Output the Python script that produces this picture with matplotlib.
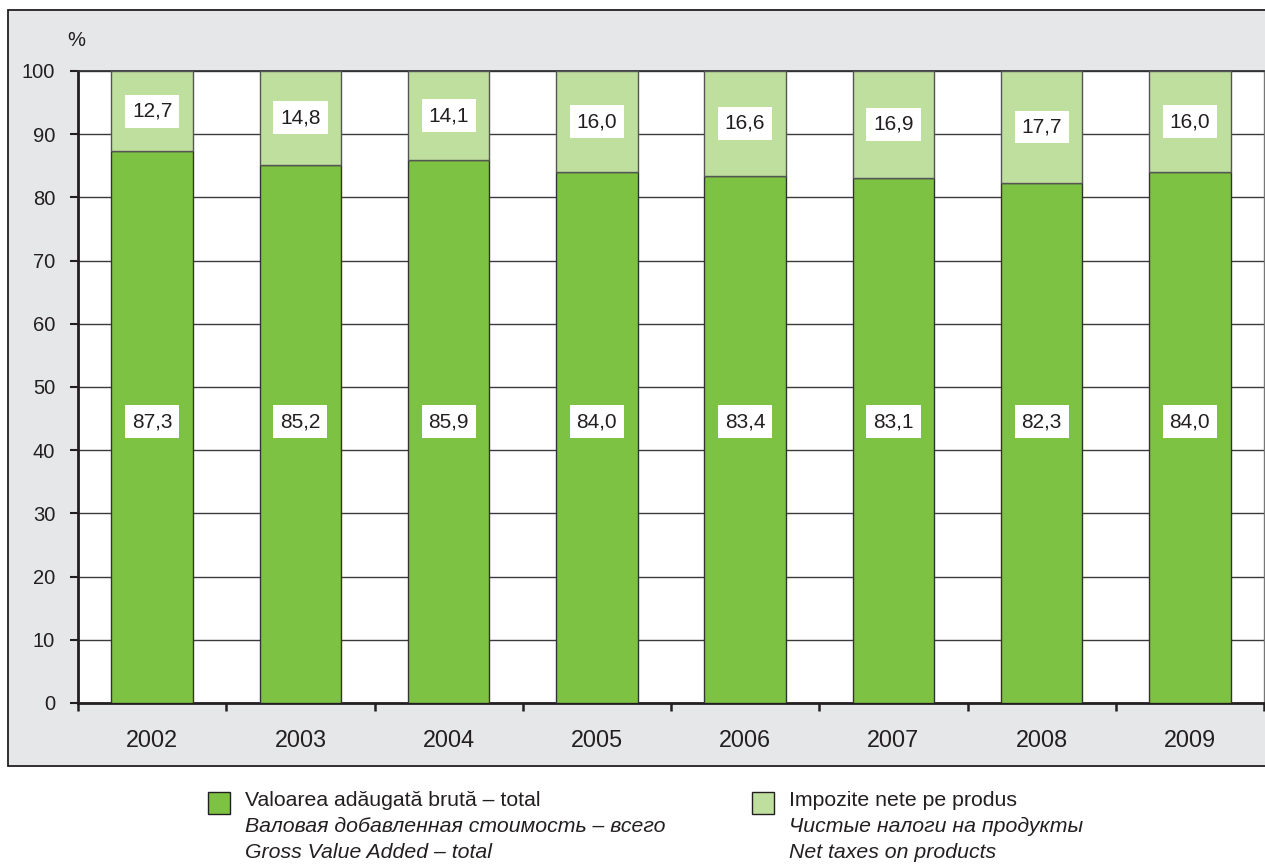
import matplotlib.pyplot as plt
import numpy as np
from matplotlib.patches import Rectangle

plt.rcParams['font.family'] = ['Liberation Sans', 'DejaVu Sans']

years = ['2002', '2003', '2004', '2005', '2006', '2007', '2008', '2009']
gva = [87.3, 85.2, 85.9, 84.0, 83.4, 83.1, 82.3, 84.0]
taxes = [12.7, 14.8, 14.1, 16.0, 16.6, 16.9, 17.7, 16.0]

legend_gva = ['Valoarea adăugată brută – total',
              'Валовая добавленная стоимость – всего',
              'Gross Value Added – total']
legend_tax = ['Impozite nete pe produs',
              'Чистые налоги на продукты',
              'Net taxes on products']

dark_green = '#7dc242'
light_green = '#bfdf9f'
panel_gray = '#e6e7e8'

fig = plt.figure(figsize=(12.65, 8.64), dpi=100)
W, H = 1265, 864

# gray panel behind the chart
fig.patches.append(Rectangle((8 / W, 1 - 766 / H), 1.0, (766 - 10) / H,
                             transform=fig.transFigure, facecolor=panel_gray,
                             edgecolor='#231f20', linewidth=1.3, zorder=-5))

ax = fig.add_axes([78 / W, 1 - 703 / H, (1264 - 78) / W, (703 - 71) / H])
ax.set_zorder(2)
ax.set_facecolor('white')

x = np.arange(len(years))
ax.bar(x, gva, width=0.55, color=dark_green, edgecolor='#333333', linewidth=1.0, zorder=3)
ax.bar(x, taxes, width=0.55, bottom=gva, color=light_green, edgecolor='#555555',
       linewidth=1.0, zorder=3)

box = dict(boxstyle='square,pad=0.33', facecolor='white', edgecolor='none')
for i in range(len(years)):
    ax.text(x[i], gva[i] + taxes[i] / 2, f'{taxes[i]:.1f}'.replace('.', ','),
            ha='center', va='center', fontsize=15, color='#231f20', bbox=box, zorder=5)
    ax.text(x[i], 44.5, f'{gva[i]:.1f}'.replace('.', ','),
            ha='center', va='center', fontsize=15, color='#231f20', bbox=box, zorder=5)

ax.set_xlim(-0.5, len(years) - 0.5)
ax.set_ylim(0, 100)
ax.set_yticks(range(0, 101, 10))
ax.yaxis.grid(True, color='#3a3a3a', linewidth=1.0, zorder=1)
ax.set_axisbelow(True)

ax.set_xticks(x)
ax.set_xticklabels(years)
ax.set_xticks(np.arange(-0.5, len(years)), minor=True)
ax.tick_params(axis='x', which='major', length=0, pad=19, labelsize=16.8, labelcolor='#231f20')
ax.tick_params(axis='x', which='minor', length=6, width=1.8, direction='out', color='#231f20')
ax.tick_params(axis='y', length=6, width=1.5, direction='out', pad=10.5, labelsize=14.5,
               labelcolor='#231f20', color='#231f20')

for side in ['left', 'bottom']:
    ax.spines[side].set_linewidth(2.0)
    ax.spines[side].set_color('#231f20')
ax.spines['top'].set_linewidth(1.3)
ax.spines['top'].set_color('#333333')
ax.spines['right'].set_linewidth(1.0)
ax.spines['right'].set_color('#777777')

fig.text(76 / W, 1 - 40 / H, '%', ha='center', va='center', fontsize=14.5, color='#231f20')

# legend drawn by hand below the panel
def legend_block(px, color, lines):
    fig.patches.append(Rectangle((px / W, 1 - 814 / H), 22 / W, 22 / H,
                                 transform=fig.transFigure, facecolor=color,
                                 edgecolor='#231f20', linewidth=1.0))
    tx = (px + 37) / W
    for j, line in enumerate(lines):
        fig.text(tx, 1 - (800 + 26 * j) / H, line, ha='left', va='center', fontsize=15.3,
                 color='#231f20', style='normal' if j == 0 else 'italic')

legend_block(208, dark_green, legend_gva)
legend_block(752, light_green, legend_tax)

fig.savefig('out.png', dpi=100)
